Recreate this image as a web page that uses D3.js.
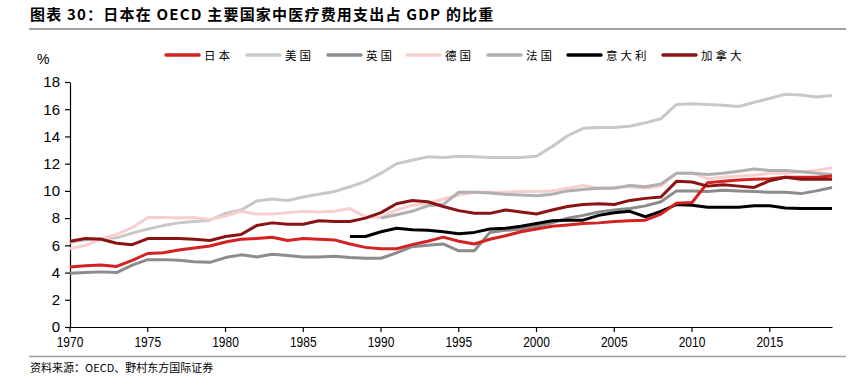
<!DOCTYPE html>
<html>
<head>
<meta charset="utf-8">
<title>日本在 OECD 主要国家中医疗费用支出占 GDP 的比重</title>
<script src="https://cdn.jsdelivr.net/npm/d3@7"></script>
<style>
	html, body { margin: 0; padding: 0; background: #fff; }
	body { width: 859px; height: 387px; overflow: hidden; }
	svg { display: block; }
	.title { font-family: "Noto Sans CJK SC", sans-serif; font-weight: 700; font-size: 15px; letter-spacing: 1.2px; }
	.legend text { font-family: "Noto Sans CJK SC", serif; font-size: 11.5px; letter-spacing: 3px; }
	.axis text { font-family: "Liberation Sans", Arial, sans-serif; font-size: 15px; fill: #000; }
	.source { font-family: "Noto Sans CJK SC", sans-serif; font-size: 11px; }
</style>
</head>
<body>
<div id="chart"></div>
<script>

var years = d3.range(1970, 2020);

var japan = [4.4, 4.5, 4.55, 4.45, 4.9, 5.4, 5.45, 5.65, 5.8, 5.95,
	6.25, 6.45, 6.5, 6.6, 6.35, 6.5, 6.45, 6.4, 6.1, 5.85,
	5.75, 5.75, 6.05, 6.3, 6.6, 6.3, 6.1, 6.45, 6.7, 7.0,
	7.2, 7.4, 7.5, 7.6, 7.65, 7.75, 7.8, 7.85, 8.3, 9.1,
	9.15, 10.6, 10.7, 10.8, 10.85, 10.9, 11.0, 11.0, 11.0, 11.1];

var usa = [6.2, 6.4, 6.5, 6.55, 6.9, 7.2, 7.45, 7.65, 7.75, 7.85,
	8.35, 8.6, 9.25, 9.4, 9.3, 9.55, 9.75, 9.95, 10.3, 10.7,
	11.3, 12.0, 12.25, 12.5, 12.45, 12.55, 12.5, 12.45, 12.45, 12.45,
	12.55, 13.25, 14.05, 14.6, 14.65, 14.65, 14.75, 15.0, 15.3, 16.35,
	16.4, 16.35, 16.3, 16.2, 16.5, 16.8, 17.1, 17.05, 16.9, 17.0];

var uk = [3.95, 4.0, 4.05, 4.0, 4.55, 4.95, 4.95, 4.9, 4.8, 4.75,
	5.1, 5.3, 5.15, 5.35, 5.25, 5.15, 5.15, 5.2, 5.1, 5.05,
	5.05, 5.45, 5.9, 6.0, 6.1, 5.6, 5.6, 6.95, 7.1, 7.2,
	7.4, 7.65, 8.0, 8.2, 8.45, 8.6, 8.7, 8.9, 9.2, 10.0,
	10.0, 9.95, 10.05, 10.0, 9.95, 9.9, 9.9, 9.8, 10.0, 10.25];

var germany = [5.75, 6.0, 6.45, 6.8, 7.3, 8.05, 8.05, 8.0, 8.05, 7.9,
	8.15, 8.5, 8.3, 8.3, 8.4, 8.5, 8.45, 8.5, 8.7, 8.1,
	8.05, 8.6, 8.95, 9.1, 9.4, 9.7, 9.9, 9.9, 9.9, 9.95,
	9.95, 10.0, 10.2, 10.4, 10.2, 10.25, 10.3, 10.2, 10.35, 11.3,
	11.3, 10.9, 11.0, 11.1, 11.15, 11.3, 11.3, 11.4, 11.5, 11.7];

var france = [null, null, null, null, null, null, null, null, null, null,
	null, null, null, null, null, null, null, null, null, null,
	8.0, 8.25, 8.5, 8.9, 9.0, 9.9, 9.9, 9.85, 9.75, 9.7,
	9.65, 9.75, 10.0, 10.1, 10.2, 10.2, 10.4, 10.3, 10.5, 11.3,
	11.3, 11.2, 11.3, 11.45, 11.6, 11.5, 11.5, 11.4, 11.3, 11.2];

var italy = [null, null, null, null, null, null, null, null, null, null,
	null, null, null, null, null, null, null, null, 6.65, 6.65,
	7.0, 7.25, 7.15, 7.1, 7.0, 6.85, 6.95, 7.2, 7.25, 7.4,
	7.6, 7.8, 7.85, 7.85, 8.2, 8.4, 8.5, 8.1, 8.5, 9.0,
	8.95, 8.8, 8.8, 8.8, 8.9, 8.9, 8.75, 8.7, 8.7, 8.7];

var canada = [6.3, 6.5, 6.45, 6.15, 6.05, 6.5, 6.5, 6.5, 6.45, 6.35,
	6.65, 6.8, 7.45, 7.65, 7.55, 7.55, 7.8, 7.75, 7.75, 8.0,
	8.4, 9.05, 9.3, 9.2, 8.85, 8.55, 8.35, 8.35, 8.6, 8.45,
	8.3, 8.6, 8.85, 9.0, 9.05, 9.0, 9.3, 9.45, 9.55, 10.7,
	10.65, 10.35, 10.45, 10.35, 10.25, 10.75, 11.0, 10.85, 10.85, 10.85];

var yTicks = [0, 2, 4, 6, 8, 10, 12, 14, 16, 18];
var xTicks = [1970, 1975, 1980, 1985, 1990, 1995, 2000, 2005, 2010, 2015];

// drawing order: back to front
var series = [
	{name: "美国", values: usa, color: "#c8c8c8"},
	{name: "德国", values: germany, color: "#f8cfcf"},
	{name: "法国", values: france, color: "#b0b0b0"},
	{name: "英国", values: uk, color: "#8c8c8c"},
	{name: "意大利", values: italy, color: "#000000"},
	{name: "日本", values: japan, color: "#d42222"},
	{name: "加拿大", values: canada, color: "#8a1414"}
];
var legendOrder = ["日本", "美国", "英国", "德国", "法国", "意大利", "加拿大"];

var width = 859, height = 387;

var svg = d3.select("#chart").append("svg")
	.attr("width", width)
	.attr("height", height);

// title + rules
svg.append("text")
	.attr("class", "title")
	.attr("x", 30)
	.attr("y", 20)
	.text("图表 30：日本在 OECD 主要国家中医疗费用支出占 GDP 的比重");

svg.append("line")
	.attr("x1", 29).attr("x2", 846)
	.attr("y1", 29).attr("y2", 29)
	.attr("stroke", "#a0a0a0").attr("stroke-width", 2);

svg.append("line")
	.attr("x1", 29).attr("x2", 846)
	.attr("y1", 356.5).attr("y2", 356.5)
	.attr("stroke", "#a0a0a0").attr("stroke-width", 1.5);

svg.append("text")
	.attr("class", "source")
	.attr("x", 30)
	.attr("y", 372)
	.text("资料来源：OECD、野村东方国际证券");

var x = d3.scaleLinear().domain([1970, 2019]).range([70, 832]);
var y = d3.scaleLinear().domain([0, 18]).range([327, 82]);

// axes
var yAxis = svg.append("g")
	.attr("class", "axis")
	.attr("transform", "translate(70,0)")
	.call(d3.axisLeft(y).tickValues(yTicks).tickSize(5).tickPadding(5).tickSizeOuter(0));

var xAxis = svg.append("g")
	.attr("class", "axis")
	.attr("transform", "translate(0,327)")
	.call(d3.axisBottom(x).tickValues(xTicks).tickFormat(d3.format("d")).tickSize(5).tickPadding(4).tickSizeOuter(0));

svg.selectAll(".axis path, .axis line").attr("stroke", "#000").attr("stroke-width", 1.2);
xAxis.selectAll("text").attr("transform", "scale(0.8,1)")
	.attr("x", function(d) { return 0; })
	.each(function(d) {
		d3.select(this.parentNode).attr("transform", "translate(" + x(d) + ",0)");
	});

svg.append("text")
	.attr("x", 37).attr("y", 64)
	.style("font-family", "Liberation Sans, Arial, sans-serif")
	.style("font-size", "14px")
	.text("%");

// lines
var line = d3.line()
	.defined(function(d) { return d != null; })
	.x(function(d, i) { return x(years[i]); })
	.y(function(d) { return y(d); });

svg.append("g")
	.selectAll("path")
	.data(series)
	.join("path")
	.attr("fill", "none")
	.attr("stroke", function(d) { return d.color; })
	.attr("stroke-width", 3)
	.attr("stroke-linejoin", "round")
	.attr("d", function(d) { return line(d.values); });

// legend
var legendX = [166, 247, 328, 407, 488, 568, 663];
var legend = svg.append("g").attr("class", "legend")
	.selectAll("g")
	.data(legendOrder)
	.join("g")
	.attr("transform", function(d, i) { return "translate(" + legendX[i] + ",55)"; });

legend.append("line")
	.attr("x1", 0).attr("x2", 33)
	.attr("stroke", function(d) { return series.find(function(s) { return s.name === d; }).color; })
	.attr("stroke-width", 3.5)
	.attr("stroke-linecap", "round");

legend.append("text")
	.attr("x", 38)
	.attr("y", 4.5)
	.text(function(d) { return d; });

</script>
</body>
</html>
